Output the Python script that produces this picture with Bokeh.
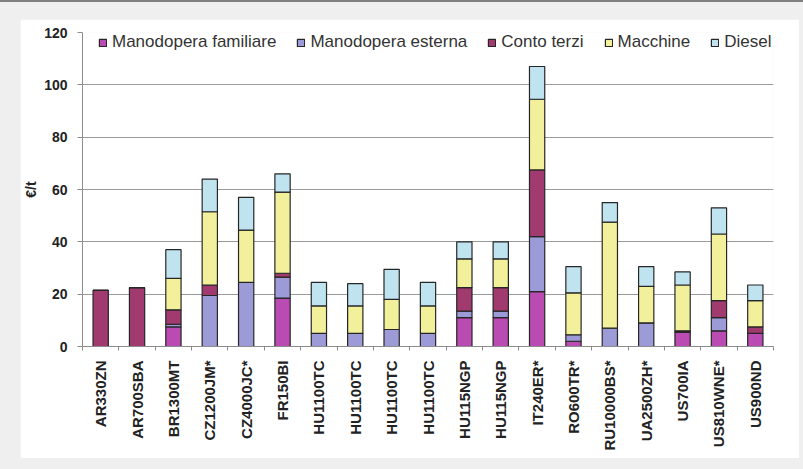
import math

from bokeh.embed import file_html
from bokeh.resources import INLINE
from bokeh.plotting import figure
from bokeh.layouts import column
from bokeh.models import (ColumnDataSource, FixedTicker, Legend, LegendItem,
                          Range1d)

# Farm codes on the x axis
farms = ["AR330ZN", "AR700SBA", "BR1300MT", "CZ1200JM*", "CZ4000JC*", "FR150BI",
         "HU1100TC", "HU1100TC", "HU1100TC", "HU1100TC", "HU115NGP", "HU115NGP",
         "IT240ER*", "RO600TR*", "RU10000BS*", "UA2500ZH*", "US700IA",
         "US810WNE*", "US900ND"]

# Cost components, €/t
manodopera_familiare = [0, 0, 7.5, 0, 0, 18.5, 0, 0, 0, 0, 11, 11, 21, 2, 0, 0, 5.5, 6, 5]
manodopera_esterna = [0, 0, 1, 19.5, 24.5, 8, 5, 5, 6.5, 5, 2.5, 2.5, 21, 2.5, 7, 9, 0, 5, 0]
conto_terzi = [21.5, 22.5, 5.5, 4, 0, 1.5, 0, 0, 0, 0, 9, 9, 25.5, 0, 0, 0, 0.5, 6.5, 2.5]
macchine = [0, 0, 12, 28, 20, 31, 10.5, 10.5, 11.5, 10.5, 11, 11, 27, 16, 40.5, 14, 17.5, 25.5, 10]
diesel = [0, 0, 11, 12.5, 12.5, 7, 9, 8.5, 11.5, 9, 6.5, 6.5, 12.5, 10, 7.5, 7.5, 5, 10, 6]

series_keys = ["fam", "ext", "ct", "mac", "die"]
series_labels = ["Manodopera familiare", "Manodopera esterna", "Conto terzi",
                 "Macchine", "Diesel"]
series_colors = ["#ba4bb2", "#9c9bd8", "#a13a6e", "#f3f09b", "#bfe4ef"]

positions = list(range(1, len(farms) + 1))
source = ColumnDataSource(data=dict(
    x=positions,
    fam=manodopera_familiare,
    ext=manodopera_esterna,
    ct=conto_terzi,
    mac=macchine,
    die=diesel,
))

p = figure(width=779, height=439, output_backend="svg", toolbar_location=None,
           x_range=Range1d(0.5, len(farms) + 0.5), y_range=Range1d(0, 120),
           min_border_left=58, min_border_right=26, min_border_top=13,
           min_border_bottom=112)
p.margin = (19, 4, 11, 20)
p.background_fill_color = "white"
p.border_fill_color = "white"
p.outline_line_color = None

renderers = p.vbar_stack(series_keys, x="x", width=0.42, source=source,
                         fill_color=series_colors, line_color="#262626",
                         line_width=1.2)

# Axes
font = "Liberation Sans"
yax = p.yaxis[0]
yax.ticker = FixedTicker(ticks=[0, 20, 40, 60, 80, 100, 120])
yax.axis_line_color = "#8c8c8c"
yax.major_tick_line_color = "#8c8c8c"
yax.major_tick_out = 5
yax.major_tick_in = 0
yax.minor_tick_line_color = None
yax.major_label_text_font = font
yax.major_label_text_font_style = "bold"
yax.major_label_text_font_size = "14px"
yax.major_label_text_color = "#222222"
yax.major_label_standoff = 10
yax.axis_label = "€/t"
yax.axis_label_text_font = font
yax.axis_label_text_font_style = "bold"
yax.axis_label_text_font_size = "14px"
yax.axis_label_text_color = "#222222"
yax.axis_label_standoff = 2

xax = p.xaxis[0]
xax.ticker = FixedTicker(ticks=positions,
                         minor_ticks=[i + 0.5 for i in range(len(farms) + 1)])
xax.major_label_overrides = {i + 1: name for i, name in enumerate(farms)}
xax.major_label_orientation = math.pi / 2
xax.axis_line_color = "#8c8c8c"
xax.major_tick_line_color = None
xax.major_tick_out = 0
xax.major_tick_in = 0
xax.minor_tick_line_color = "#8c8c8c"
xax.minor_tick_out = 4
xax.minor_tick_in = 0
xax.major_label_text_font = font
xax.major_label_text_font_style = "bold"
xax.major_label_text_font_size = "15px"
xax.major_label_text_color = "#222222"
xax.major_label_standoff = 10

p.xgrid.grid_line_color = None
p.ygrid.ticker = FixedTicker(ticks=[20, 40, 60, 80, 100])
p.ygrid.grid_line_color = "#9a9a9a"
p.ygrid.grid_line_width = 1

# Horizontal legend across the top of the plot area
items = [LegendItem(label=lab, renderers=[r]) for lab, r in zip(series_labels, renderers)]
legend = Legend(items=items, orientation="horizontal", location=(16, 294),
                padding=0, margin=0, spacing=20, label_standoff=5,
                glyph_width=9, glyph_height=9, label_height=18,
                label_text_font=font, label_text_font_size="17px",
                label_text_color="#333333", background_fill_alpha=0,
                border_line_color=None)
p.add_layout(legend)

page = column(p, width=803, height=469,
              styles={"background": "linear-gradient(#7f7f7f 0px, #7f7f7f 2px, #efefef 2px)"})

open("out.html", "w").write(file_html(page, INLINE))
